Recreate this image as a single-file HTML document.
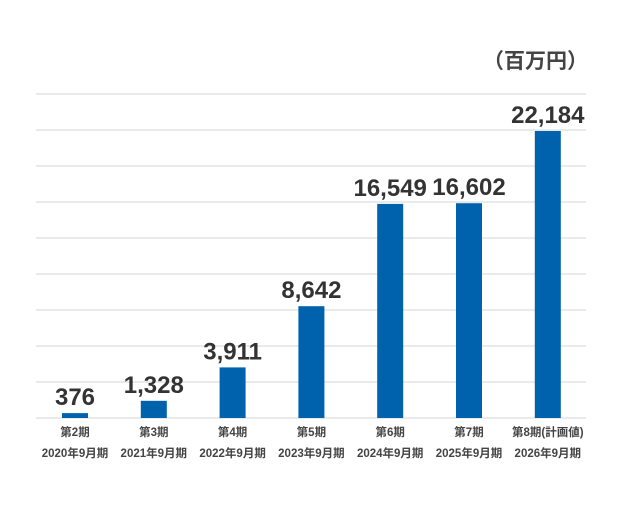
<!DOCTYPE html>
<html><head><meta charset="utf-8">
<style>
html,body{margin:0;padding:0;background:#fff;}
svg{display:block;font-family:"Liberation Sans","Noto Sans CJK JP",sans-serif;}
</style></head>
<body>
<svg id="chart" width="620" height="505">
<text x="588" y="68" text-anchor="end" font-size="21" font-weight="bold" fill="#444">（百万円）</text>
<g id="grid"></g><g id="bars"></g><g id="labels"></g>
</svg>
<script>
const periods=["第2期","第3期","第4期","第5期","第6期","第7期","第8期(計画値)"];
const dates=["2020年9月期","2021年9月期","2022年9月期","2023年9月期","2024年9月期","2025年9月期","2026年9月期"];
const values=[376,1328,3911,8642,16549,16602,22184];
const valueLabels=["376","1,328","3,911","8,642","16,549","16,602","22,184"];
const NS="http://www.w3.org/2000/svg";
const base=418, pxPer=287/22184, x0=75, step=78.8, bw=26;
const y=v=>base-v*pxPer, x=i=>x0+i*step;
function mk(t,a,p){const e=document.createElementNS(NS,t);for(const k in a)e.setAttribute(k,a[k]);p.appendChild(e);return e;}
const g=document.getElementById('grid');
for(let k=0;k<=9;k++){const yy=base-k*36;
const l=mk('line',{x1:36,x2:586,y1:yy,y2:yy,stroke:'#d6d6d6','stroke-width':1},g);

}
const b=document.getElementById('bars'),lb=document.getElementById('labels');
values.forEach((v,i)=>{
const r=mk('rect',{x:x(i)-bw/2,y:y(v),width:bw,height:base-y(v),fill:'#0062ad'},b);


const t=mk('text',{x:x(i),y:y(v)-8,'text-anchor':'middle','font-size':24,'font-weight':'bold',fill:'#333'},lb);
t.textContent=valueLabels[i];


const p=mk('text',{x:x(i),y:436,'text-anchor':'middle','font-size':11.5,'font-weight':'bold',fill:'#444'},lb);
p.textContent=periods[i];


const d=mk('text',{x:x(i),y:457,'text-anchor':'middle','font-size':11.5,'font-weight':'bold',fill:'#444'},lb);
d.textContent=dates[i];


});
</script>
</body></html>
